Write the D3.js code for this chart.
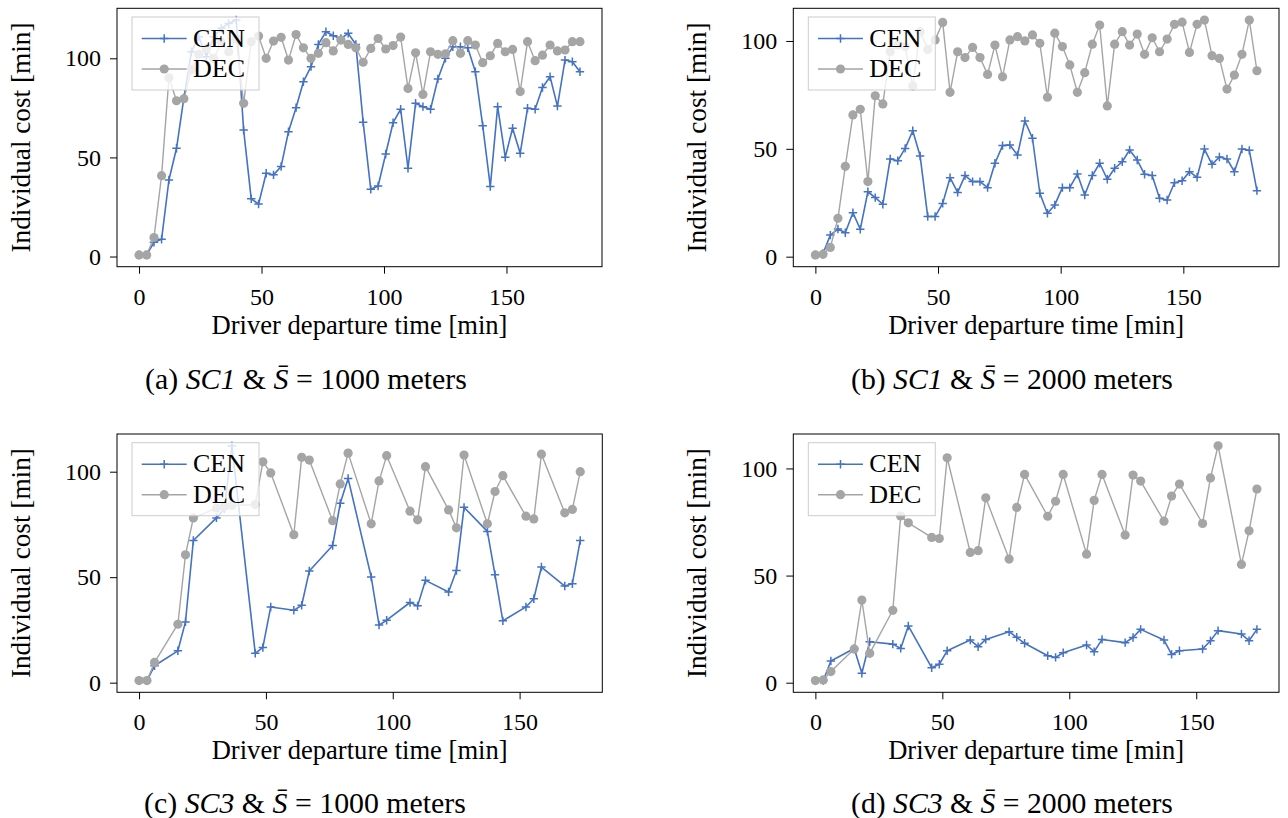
<!DOCTYPE html>
<html><head><meta charset="utf-8">
<script src="https://cdn.jsdelivr.net/npm/d3@7"></script>
<style>
body{margin:0;background:#fff}
text{font-family:"Liberation Serif","DejaVu Serif","Noto Serif","Times New Roman",serif;fill:#000}
</style>
</head><body><script>
// ---------- data ----------
const timesAB = [0, 3.1, 6.1, 9.2, 12.2, 15.3, 18.3, 21.4, 24.4, 27.5, 30.5, 33.6, 36.6, 39.7, 42.7, 45.8, 48.8, 51.9, 54.9, 58.0,
  61.0, 64.1, 67.1, 70.2, 73.2, 76.3, 79.3, 82.4, 85.4, 88.5, 91.5, 94.6, 97.6, 100.7, 103.7, 106.8, 109.8, 112.9, 115.9, 119.0,
  122.0, 125.1, 128.1, 131.2, 134.2, 137.3, 140.3, 143.4, 146.4, 149.5, 152.5, 155.6, 158.6, 161.7, 164.7, 167.8, 170.8, 173.9, 176.9, 180.0];
const timesCD = [0, 3.1, 6.1, 15.3, 18.3, 21.4, 30.5, 33.6, 36.6, 45.8, 48.8, 51.9, 61.0, 64.1, 67.1, 76.3, 79.3, 82.4,
  91.5, 94.6, 97.6, 106.8, 109.8, 112.9, 122.0, 125.1, 128.1, 137.3, 140.3, 143.4, 152.5, 155.6, 158.6, 167.8, 170.8, 173.9];

const cenA = [0.8, 0.8, 7.2, 8.7, 38.6, 54.6, 80, 103.3, 110.9, 100.8, 110.9, 115.1, 117.6, 119.3, 63.8, 29.1, 26.5, 42, 41.2, 45.4,
  63, 75.1, 88.2, 95.8, 107, 113.4, 111.4, 110, 112.6, 107, 67.7, 33.9, 35.6, 51.7, 67.5, 74.3, 44.5, 77.3, 75.6, 74.3,
  89.6, 100, 105.8, 105.8, 105.3, 93.2, 66, 35.3, 75.6, 50.1, 64.7, 52.1, 74.8, 74.3, 85.3, 90.7, 75.9, 99.1, 98.3, 93.2];
const decA = [0.8, 0.8, 9.6, 40.8, 90.2, 78.6, 79.6, 94.3, 102, 105, 100, 108, 103.3, 110, 77.3, 108.4, 111.2, 100, 108.7, 110.6,
  99.1, 112, 105.3, 100, 102.5, 107.9, 103.7, 109.2, 107, 105.3, 98, 105, 110, 104.7, 106.4, 110.7, 84.8, 102.8, 81.8, 103.3,
  102, 102.3, 108.9, 102.5, 108.9, 106.7, 97.8, 101.3, 107.5, 103.3, 104.5, 83.2, 108.4, 98.8, 101.6, 106.7, 103.7, 104.2, 108.4, 108.4];

const cenB = [0.8, 1.5, 10, 12.8, 11.1, 20.4, 12.7, 30.1, 27.4, 24.3, 45.3, 44.5, 50.2, 58.4, 46.7, 18.6, 18.6, 24.7, 36.6, 29.8,
  37.6, 34.8, 34.8, 32, 43.3, 51.5, 51.8, 47.1, 62.9, 54.9, 29.4, 20.1, 24, 32, 32, 38.3, 28.6, 37.6, 43.3, 35.9,
  41, 44, 49.5, 44.8, 38.2, 37.6, 27.1, 26.3, 34.3, 35.2, 39.4, 36.8, 49.9, 42.8, 46.2, 45.3, 39.4, 49.9, 49.3, 30.6];
const decB = [0.8, 1.1, 4.3, 17.8, 41.9, 65.7, 68.3, 34.8, 74.6, 70.8, 95, 98.1, 97.4, 79.1, 104.3, 96.1, 100.5, 108.6, 76.2, 95,
  92.3, 97, 92.3, 84.5, 98.1, 83.4, 100.5, 102, 100, 102.8, 98.9, 73.9, 103.6, 97.4, 88.9, 76.2, 85.3, 98.5, 107.4, 69.9,
  98.5, 104.3, 98.1, 103.2, 93.8, 101.5, 95, 100.9, 107.7, 108.7, 94.7, 107.7, 109.7, 93.2, 91.9, 77.7, 84.2, 93.8, 109.7, 86.2];

const cenC = [1, 1, 8, 15.1, 28.8, 67.4, 78.1, 82.3, 112.3, 13.9, 16.7, 35.9, 34.3, 36.7, 52.9, 65, 85, 96.8,
  50.1, 27.3, 29.6, 38, 36.4, 48.5, 43, 53.2, 83.1, 71.7, 51.2, 29.3, 35.9, 39.8, 54.8, 45.8, 46.9, 67.4];
const decC = [1, 1, 9.6, 27.7, 60.6, 78.1, 82.7, 83.5, 84, 84.4, 104.7, 99.4, 70.1, 106.8, 105.5, 76.8, 94.2, 108.8,
  75.3, 95.6, 107.6, 81.3, 77.2, 102.4, 81.9, 73.4, 107.9, 75.3, 90.6, 98.1, 78.9, 77.6, 108.3, 80.5, 82.1, 100];

const cenD = [1, 1, 10.1, 16, 4.4, 19.1, 18, 16, 26.5, 7, 8.6, 14.9, 19.9, 16.8, 20.2, 23.8, 21.2, 18.4,
  12.6, 11.8, 14, 17.6, 14.5, 20.2, 18.7, 21.1, 24.9, 19.9, 13.2, 14.9, 15.7, 19.6, 24.3, 22.7, 19.6, 24.9];
const decD = [1, 1.3, 5.2, 15.7, 38.6, 13.7, 33.8, 77.8, 74.6, 67.8, 67.3, 105, 60.8, 61.6, 86.3, 57.7, 81.8, 97.2,
  77.7, 84.7, 97.2, 60, 85.1, 97.2, 68.9, 96.9, 94.1, 75.4, 87.1, 92.7, 74.3, 95.6, 110.6, 55.2, 70.9, 90.4];

const xTicks = [0, 50, 100, 150];
const yTicks = [0, 50, 100];
const seriesNames = ["CEN", "DEC"];
const xLabel = "Driver departure time [min]";
const yLabel = "Individual cost [min]";
const captionLetters = ["(a)", "(b)", "(c)", "(d)"];
const captionScen = ["SC1", "SC1", "SC3", "SC3"];
const captionDist = ["1000", "2000", "1000", "2000"];

// ---------- drawing ----------
const W = 1288, H = 818;
const BLUE = "#4472c4", GRAY = "#a5a5a5";
const svg = d3.select("body").append("svg").attr("width", W).attr("height", H);
svg.append("rect").attr("width", W).attr("height", H).attr("fill", "#fff");

function padExtent(arr) {
  const lo = d3.min(arr), hi = d3.max(arr), r = hi - lo;
  return [lo - 0.05 * r, hi + 0.05 * r];
}
// scale a text's font-size so its rendered width equals the target width
function fitWidth(sel, target) {
  const len = sel.node().getComputedTextLength();
  const fs = +sel.attr("font-size");
  const nfs = fs * target / len;
  sel.attr("font-size", nfs);
  return nfs;
}

const panels = [
  {box: [117, 8.3, 602, 266.7], times: timesAB, cen: cenA, dec: decA, capX: 306, capY: 389},
  {box: [793.3, 8.3, 1279, 266.7], times: timesAB, cen: cenB, dec: decB, capX: 1012, capY: 389},
  {box: [117, 434, 602.3, 692.3], times: timesCD, cen: cenC, dec: decC, capX: 305, capY: 813},
  {box: [793.3, 434, 1279, 692.3], times: timesCD, cen: cenD, dec: decD, capX: 1012, capY: 813}
];

const PLUS = 4.2, PLUSW = 1.5, DOT = 4.6;
function plusPath(cx, cy, s) {
  return `M${cx - s},${cy}H${cx + s}M${cx},${cy - s}V${cy + s}`;
}

panels.forEach((p, k) => {
  const [x0, y0, x1, y1] = p.box;
  const x = d3.scaleLinear().domain(padExtent(p.times)).range([x0, x1]);
  const y = d3.scaleLinear().domain(padExtent(p.cen.concat(p.dec))).range([y1, y0]);
  const g = svg.append("g");
  const line = d3.line().x((d, i) => x(p.times[i])).y(d => y(d));

  // CEN series
  g.append("path").datum(p.cen).attr("d", line)
    .attr("fill", "none").attr("stroke", BLUE).attr("stroke-width", 1.6).attr("stroke-linejoin", "round");
  g.append("g").selectAll("path").data(p.cen).join("path")
    .attr("d", (d, i) => plusPath(x(p.times[i]), y(d), PLUS))
    .attr("stroke", BLUE).attr("stroke-width", PLUSW).attr("fill", "none");

  // DEC series
  g.append("path").datum(p.dec).attr("d", line)
    .attr("fill", "none").attr("stroke", GRAY).attr("stroke-width", 1.4).attr("stroke-linejoin", "round");
  g.append("g").selectAll("circle").data(p.dec).join("circle")
    .attr("cx", (d, i) => x(p.times[i])).attr("cy", d => y(d)).attr("r", DOT)
    .attr("fill", GRAY);

  // axes
  const ax = g.append("g").attr("transform", `translate(0,${y1})`)
    .call(d3.axisBottom(x).tickValues(xTicks).tickSize(7).tickPadding(14).tickFormat(d3.format("d")));
  ax.select(".domain").remove();
  ax.attr("font-family", null);
  ax.selectAll("line").attr("stroke", "#000").attr("stroke-width", 1);
  ax.selectAll("text").attr("font-size", 24).attr("fill", "#000");

  const ay = g.append("g").attr("transform", `translate(${x0},0)`)
    .call(d3.axisLeft(y).tickValues(yTicks).tickSize(7).tickPadding(9).tickFormat(d3.format("d")));
  ay.select(".domain").remove();
  ay.attr("font-family", null);
  ay.selectAll("line").attr("stroke", "#000").attr("stroke-width", 1);
  ay.selectAll("text").attr("font-size", 24).attr("fill", "#000");
  const t100 = ay.selectAll("text").filter(d => d === 100);
  const tfs = fitWidth(t100, 36);
  ax.selectAll("text").attr("font-size", tfs);
  ay.selectAll("text").attr("font-size", tfs);

  // frame
  g.append("rect").attr("x", x0).attr("y", y0).attr("width", x1 - x0).attr("height", y1 - y0)
    .attr("fill", "none").attr("stroke", "#000").attr("stroke-width", 1);

  // axis labels
  const xl = g.append("text").attr("x", (x0 + x1) / 2).attr("y", y1 + 67).attr("text-anchor", "middle")
    .attr("font-size", 26).text(xLabel);
  fitWidth(xl, 296);
  const yl = g.append("text").attr("transform", `translate(${x0 - 87},${(y0 + y1) / 2}) rotate(-90)`)
    .attr("text-anchor", "middle").attr("font-size", 26).text(yLabel);
  fitWidth(yl, 230);

  // legend
  const lx = x0 + 15, ly = y0 + 8.7;
  const lg = g.append("g").attr("transform", `translate(${lx},${ly})`);
  lg.append("rect").attr("width", 127).attr("height", 73)
    .attr("fill", "#fff").attr("fill-opacity", 0.8).attr("stroke", "#cccccc").attr("stroke-width", 1);
  let lfs = 26;
  [0, 1].forEach(j => {
    const ry = j === 0 ? 21.5 : 52;
    const col = j === 0 ? BLUE : GRAY;
    lg.append("line").attr("x1", 9.7).attr("x2", 54.7).attr("y1", ry).attr("y2", ry)
      .attr("stroke", col).attr("stroke-width", j === 0 ? 1.6 : 1.4);
    if (j === 0) {
      lg.append("path").attr("d", plusPath(32.2, ry, PLUS)).attr("stroke", col).attr("stroke-width", PLUSW);
    } else {
      lg.append("circle").attr("cx", 32.2).attr("cy", ry).attr("r", DOT).attr("fill", col);
    }
    const lt = lg.append("text").attr("x", 61).attr("y", ry + 8).attr("font-size", lfs).text(seriesNames[j]);
    if (j === 0) lfs = fitWidth(lt, 52); else lt.attr("font-size", lfs);
  });

  // caption
  const cap = svg.append("text").attr("x", p.capX).attr("y", p.capY).attr("text-anchor", "middle")
    .attr("font-size", 27);
  cap.append("tspan").text(captionLetters[k] + " ");
  cap.append("tspan").attr("font-style", "italic").text(captionScen[k]);
  cap.append("tspan").text(" & ");
  cap.append("tspan").attr("font-style", "italic").text("S\u0304");
  cap.append("tspan").text(" = " + captionDist[k] + " meters");
  fitWidth(cap, 322);
});
</script></body></html>
